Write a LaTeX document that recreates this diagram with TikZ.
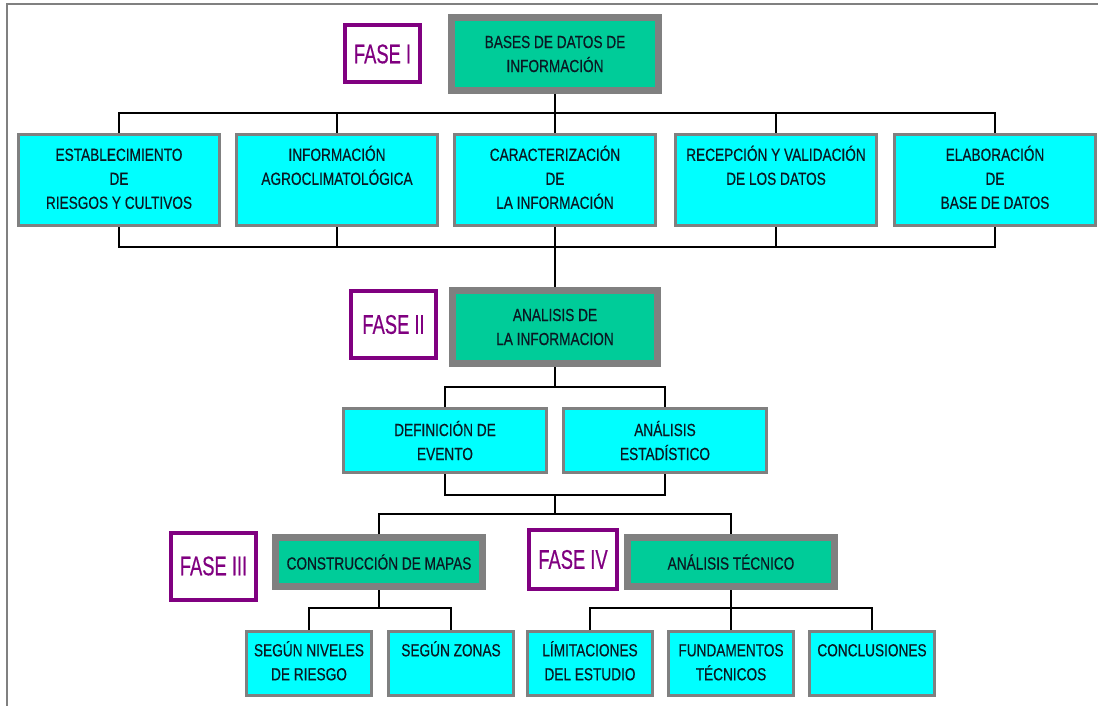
\documentclass[tikz,border=0pt]{standalone}
\usepackage{fontspec}
\setmainfont{Liberation Sans}[FakeStretch=0.78,FakeBold=0.4]
\newfontfamily\fasefont{Liberation Sans}[FakeStretch=0.68,FakeBold=0.4]
\usetikzlibrary{shapes,positioning}
\definecolor{boxcyan}{RGB}{0,255,255}
\definecolor{boxgreen}{RGB}{0,204,153}
\definecolor{edgegray}{RGB}{128,128,128}
\definecolor{fasepurple}{RGB}{128,0,128}
\definecolor{inkdark}{RGB}{10,25,35}
\newcommand{\bodyfont}{\fontsize{17.5}{24}\selectfont}
\newcommand{\toptxt}[3]{\parbox[c][#1][t]{#2}{\centering\strut #3\strut}}
\tikzstyle{stagebox}=[rectangle,draw=edgegray,line width=7pt,fill=boxgreen,align=center,inner sep=0pt,text=inkdark,font=\bodyfont]
\tikzstyle{itembox}=[rectangle,draw=edgegray,line width=3pt,fill=boxcyan,align=center,inner sep=0pt,text=inkdark,font=\bodyfont]
\tikzstyle{fasebox}=[rectangle,draw=fasepurple,line width=4pt,fill=white,text=fasepurple,inner sep=0pt,font=\fasefont\fontsize{27}{30}\selectfont]
\tikzstyle{wire}=[line width=2.5pt]

\begin{document}
\begin{tikzpicture}[x=1pt,y=-1pt]
\useasboundingbox (0,0) rectangle (1098,706);
\draw [edgegray, line width=2pt] (7,706) -- (7,4) -- (1098,4);

% fase I
\node (bases) [stagebox, minimum width=207pt, minimum height=73pt] at (555,54) {BASES DE DATOS DE\\INFORMACIÓN};
\node (fase1) [fasebox, minimum width=75pt, minimum height=57pt, left=26pt of bases] {FASE I};
\node (car) [itembox, minimum width=201pt, minimum height=91pt] at (555,180) {\toptxt{72pt}{195pt}{CARACTERIZACIÓN\\DE\\LA INFORMACIÓN}};
\node (inf) [itembox, minimum width=201pt, minimum height=91pt, left=14pt of car] {\toptxt{72pt}{195pt}{INFORMACIÓN\\AGROCLIMATOLÓGICA}};
\node (est) [itembox, minimum width=201pt, minimum height=91pt, left=14pt of inf] {\toptxt{72pt}{195pt}{ESTABLECIMIENTO\\DE\\RIESGOS Y CULTIVOS}};
\node (rec) [itembox, minimum width=201pt, minimum height=91pt, right=17pt of car] {\toptxt{72pt}{195pt}{RECEPCIÓN Y VALIDACIÓN\\DE LOS DATOS}};
\node (ela) [itembox, minimum width=201pt, minimum height=91pt, right=15pt of rec] {\toptxt{72pt}{195pt}{ELABORACIÓN\\DE\\BASE DE DATOS}};

% fase II
\node (ana) [stagebox, minimum width=205pt, minimum height=73pt] at (555,327) {ANALISIS DE\\LA INFORMACION};
\node (fase2) [fasebox, minimum width=85pt, minimum height=67pt, left=11pt of ana, yshift=2.5pt] {FASE II};
\node (def) [itembox, minimum width=203pt, minimum height=64pt] at (445,440.5) {DEFINICIÓN DE\\EVENTO};
\node (sta) [itembox, minimum width=203pt, minimum height=64pt, right=14pt of def] {ANÁLISIS\\ESTADÍSTICO};

% fase III y IV
\node (map) [stagebox, minimum width=207pt, minimum height=49pt] at (379,562) {CONSTRUCCIÓN DE MAPAS};
\node (fase3) [fasebox, minimum width=85pt, minimum height=67pt, left=14pt of map, yshift=-4pt] {FASE III};
\node (tec) [stagebox, minimum width=207pt, minimum height=49pt] at (731,562) {ANÁLISIS TÉCNICO};
\node (fase4) [fasebox, minimum width=88pt, minimum height=59pt, left=5pt of tec, yshift=2.5pt] {FASE IV};
\node (niv) [itembox, minimum width=125pt, minimum height=64pt] at (309,663.5) {\toptxt{48pt}{120pt}{SEGÚN NIVELES\\DE RIESGO}};
\node (zon) [itembox, minimum width=125pt, minimum height=64pt, right=14pt of niv] {\toptxt{48pt}{120pt}{SEGÚN ZONAS}};
\node (lim) [itembox, minimum width=125pt, minimum height=64pt] at (590,663.5) {\toptxt{48pt}{120pt}{LÍMITACIONES\\DEL ESTUDIO}};
\node (fun) [itembox, minimum width=125pt, minimum height=64pt, right=13pt of lim] {\toptxt{48pt}{120pt}{FUNDAMENTOS\\TÉCNICOS}};
\node (con) [itembox, minimum width=125pt, minimum height=64pt, right=13pt of fun] {\toptxt{48pt}{120pt}{CONCLUSIONES}};

% junctions
\coordinate (j1) at (555,113);
\coordinate (j2) at (555,247);
\coordinate (j3) at (555,387);
\coordinate (j4) at (555,495);
\coordinate (j5) at (555,514);
\coordinate (j6) at (379,608);
\coordinate (j7) at (731,608);

\draw [wire] (bases.south) -- (car.north);
\draw [wire] (est.north) |- (j1) -| (ela.north);
\draw [wire] (inf.north) |- (j1);
\draw [wire] (rec.north) |- (j1);
\draw [wire] (est.south) |- (j2) -| (ela.south);
\draw [wire] (inf.south) |- (j2);
\draw [wire] (rec.south) |- (j2);
\draw [wire] (car.south) -- (ana.north);
\draw [wire] (ana.south) -- (j3);
\draw [wire] (def.north) |- (j3) -| (sta.north);
\draw [wire] (def.south) |- (j4) -| (sta.south);
\draw [wire] (j4) -- (j5);
\draw [wire] (map.north) |- (j5) -| (tec.north);
\draw [wire] (map.south) -- (j6);
\draw [wire] (niv.north) |- (j6) -| (zon.north);
\draw [wire] (lim.north) |- (j7) -| (con.north);
\draw [wire] (tec.south) -- (fun.north);
\end{tikzpicture}
\end{document}
